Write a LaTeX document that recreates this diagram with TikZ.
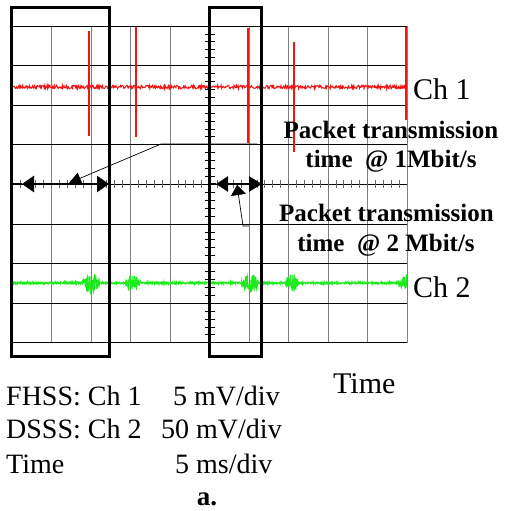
\documentclass[tikz,border=0pt]{standalone}
\usepackage{fontspec}
\setmainfont{Liberation Serif}
\usetikzlibrary{arrows.meta}
\definecolor{scopered}{RGB}{240,20,20}
\definecolor{scopegreen}{RGB}{30,235,30}

\begin{document}
\begin{tikzpicture}[
        x=1pt, y=-1pt,
        hline/.style={black, line width=0.9pt},
        vline/.style={black!50, line width=0.9pt},
        tick/.style={black!60, line width=0.8pt},
        window/.style={black, line width=3pt},
        span/.style={black, line width=2.6pt},
        callout/.style={black, line width=0.7pt},
        redtrace/.style={scopered, line width=1pt},
        greentrace/.style={scopegreen, line width=0.9pt},
        txt/.style={inner sep=0pt, anchor=base west, font=\fontsize{28}{28}\selectfont},
        big/.style={inner sep=0pt, anchor=base west, font=\fontsize{30}{30}\selectfont},
        note/.style={inner sep=0pt, anchor=base, font=\bfseries\fontsize{25}{25}\selectfont},
        declare function={
            burst(\t)=max(0,1-((\t-91)/9.5)^2)+0.85*max(0,1-((\t-133)/8)^2)
                +0.95*max(0,1-((\t-250)/9)^2)+0.85*max(0,1-((\t-292)/7)^2)
                +0.95*max(0,1-((\t-407)/9)^2);
        },
    ]
    \useasboundingbox (0,0) rectangle (504,511);
    \pgfmathsetseed{11}

    \foreach \i in {0,...,10}
        \draw[vline] ({12+39.5*\i},26) -- ({12+39.5*\i},343);
    \foreach \j in {0,...,8}
        \draw[hline] (12,{26+39.6*\j}) -- (407,{26+39.6*\j});
    \foreach \k in {1,...,49}
        \draw[tick] ({12+7.9*\k},180) -- ({12+7.9*\k},188);
    \foreach \k in {1,...,39}
        \draw[black, line width=0.8pt] (204.5,{26+7.92*\k}) -- (214.5,{26+7.92*\k});
    \draw[black, line width=2.5pt] (209.5,26) -- (209.5,343);

    % Ch 1
    \draw[redtrace] plot[domain=12:407, samples=700] (\x, {87+1.8*rand});
    \foreach \sx/\top/\bot in {89/31/136, 136/27/137, 248/28/143, 294/42/152, 406/27/120}
        \draw[scopered, line width=1.1pt] (\sx,\top) -- (\sx,\bot);

    % Ch 2
    \draw[greentrace] plot[domain=12:407, samples=1600] (\x, {283+(0.9+9.5*burst(\x))*rand});

    \draw[window] (11,8) rectangle (109,356);
    \draw[window] (209.5,8) rectangle (261,356);

    \coordinate (slow-bar) at (12,184);
    \coordinate (slow-l) at (22,184);
    \coordinate (slow-r) at (109,184);
    \coordinate (fast-bar) at (209.5,184);
    \coordinate (fast-l) at (216,184);
    \coordinate (fast-r) at (262,184);

    \draw[span] (12,172) -- (12,196);
    \draw[span] (slow-bar) -- (slow-l);
    \draw[span, {Triangle[length=12pt,width=16pt]}-{Triangle[length=12pt,width=16pt]}] (slow-l) -- (slow-r);
    \draw[span] (fast-bar) -- (fast-l);
    \draw[span, {Triangle[length=12pt,width=15pt]}-{Triangle[length=13pt,width=15pt]}] (fast-l) -- (fast-r);

    \coordinate (slow-knee) at (161,144);
    \coordinate (slow-end) at (257,144);
    \coordinate (fast-knee) at (243,226);
    \coordinate (fast-end) at (249,226);
    \draw[callout, -{Triangle[length=12pt,width=12pt]}] (slow-end) -- (slow-knee) -- (69,183);
    \draw[callout, -{Triangle[length=10pt,width=15pt]}] (fast-end) -- (fast-knee) -- (237,185);

    \node[big] (ch1) at (413,99) {Ch 1};
    \node[big] (ch2) at (413,297) {Ch 2};
    \node[note] (slow-a) at (391,138) {Packet transmission};
    \node[note] (slow-b) at (391,167) {time\ \ @ 1Mbit/s};
    \node[note] (fast-a) at (386.5,221) {Packet transmission};
    \node[note] (fast-b) at (386,251) {time\ \ @ 2 Mbit/s};
    \node[big] (axis) at (333,393) {Time};

    \node[txt] (fhss) at (6,405) {FHSS: Ch 1};
    \node[txt] (fhss-v) at (173,405) {5 mV/div};
    \node[txt] (dsss) at (6,438) {DSSS: Ch 2};
    \node[txt] (dsss-v) at (161,438) {50 mV/div};
    \node[txt] (time) at (6,473) {Time};
    \node[txt] (time-v) at (175,473) {5 ms/div};
    \node[note, font=\bfseries\fontsize{27}{27}\selectfont] (caption) at (207,505) {a.};
\end{tikzpicture}
\end{document}
